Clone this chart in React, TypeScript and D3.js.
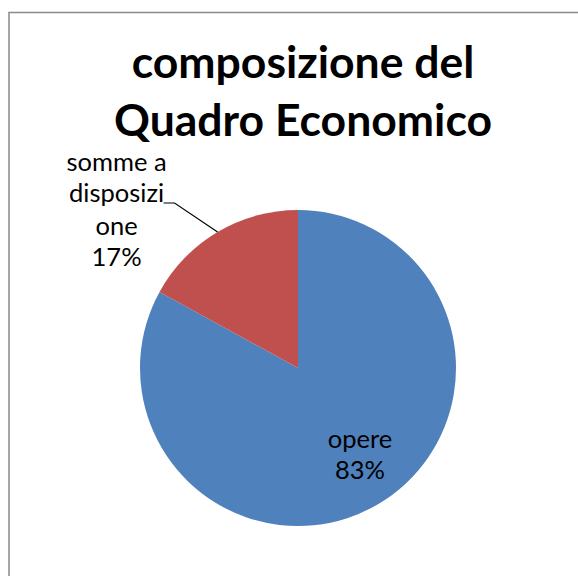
import React, { useEffect, useRef } from "react";
import * as d3 from "d3";

const categories = ["opere", "somme a disposizione"];
const values = [83, 17];
const labelLines = [
  ["opere", "83%"],
  ["somme a", "disposizi", "one", "17%"],
];
const titleLines = ["composizione del", "Quadro Economico"];
const colors = ["#4F81BD", "#C0504D"];

export default function App() {
  const svgRef = useRef<SVGSVGElement>(null);

  useEffect(() => {
    const width = 578;
    const height = 576;
    const cx = 298;
    const cy = 368;
    const radius = 158;
    const font = "Lato, 'Open Sans', sans-serif";

    const svg = d3.select(svgRef.current).attr("width", width).attr("height", height);
    svg.selectAll("*").remove();

    svg.append("rect").attr("width", width).attr("height", height).attr("fill", "#ffffff");

    // chart frame (right and bottom edges fall outside the picture)
    svg
      .append("rect")
      .attr("x", 9)
      .attr("y", 12.5)
      .attr("width", width + 20)
      .attr("height", height + 20)
      .attr("fill", "none")
      .attr("stroke", "#898989")
      .attr("stroke-width", 1.5);

    // title
    const title = svg
      .append("text")
      .attr("text-anchor", "middle")
      .attr("font-family", font)
      .attr("font-weight", "bold")
      .attr("font-size", 44.5)
      .attr("fill", "#000");
    title
      .selectAll("tspan")
      .data(titleLines)
      .join("tspan")
      .attr("x", 303)
      .attr("y", (d, i) => 78 + i * 58)
      .text((d) => d);

    const pie = d3
      .pie<number>()
      .sort(null)
      .value((d) => d);
    const arcs = pie(values);

    const arc = d3.arc<d3.PieArcDatum<number>>().innerRadius(0).outerRadius(radius);
    const inner = d3.arc<d3.PieArcDatum<number>>().innerRadius(radius * 0.72).outerRadius(radius * 0.72);
    const edge = d3.arc<d3.PieArcDatum<number>>().innerRadius(radius).outerRadius(radius);

    const g = svg.append("g").attr("transform", `translate(${cx},${cy})`);

    g.selectAll("path.slice")
      .data(arcs)
      .join("path")
      .attr("class", "slice")
      .attr("d", (d) => arc(d) as string)
      .attr("fill", (d, i) => colors[i]);

    const lineH = 31.5;
    const labelSize = 25.5;

    // inside label for opere
    const [ix, iy] = inner.centroid(arcs[0]);
    const t0 = g
      .append("text")
      .attr("text-anchor", "middle")
      .attr("font-family", font)
      .attr("font-size", labelSize)
      .attr("fill", "#000");
    t0.selectAll("tspan")
      .data(labelLines[0])
      .join("tspan")
      .attr("x", ix + 4)
      .attr("y", (d, i) => iy - 18 + i * lineH)
      .text((d) => d);

    // outside label with leader line for somme a disposizione
    const [ex, ey] = edge.centroid(arcs[1]);
    const elbow: [number, number] = [ex - 43, ey - 29];
    const lineStart: [number, number] = [elbow[0] - 11, elbow[1]];
    g.append("path")
      .attr("d", d3.line()([[ex, ey], elbow, lineStart]) as string)
      .attr("fill", "none")
      .attr("stroke", "#000")
      .attr("stroke-width", 1.2);

    const lx = lineStart[0] - 47;
    const t1 = g
      .append("text")
      .attr("text-anchor", "middle")
      .attr("font-family", font)
      .attr("font-size", labelSize)
      .attr("fill", "#000");
    t1.selectAll("tspan")
      .data(labelLines[1])
      .join("tspan")
      .attr("x", lx)
      .attr("y", (d, i) => elbow[1] - lineH - 1 + i * lineH + (i > 1 ? 1 : 0))
      .text((d) => d);

    svg.attr("aria-label", categories.join(", "));
  }, []);

  return <svg ref={svgRef} style={{ position: "absolute", left: 0, top: 0 }}></svg>;
}
